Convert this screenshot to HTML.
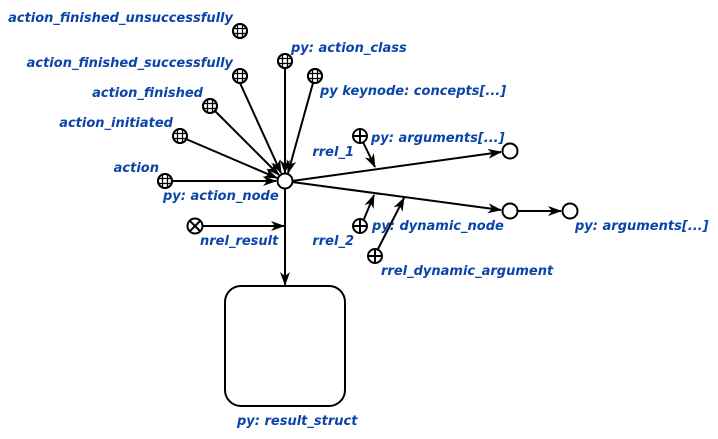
<!DOCTYPE html>
<html><head><meta charset="utf-8"><style>
html,body{margin:0;padding:0;background:#fff;width:718px;height:439px;overflow:hidden}
text{font-family:"DejaVu Sans","Liberation Sans",sans-serif;font-weight:bold;font-style:italic;font-size:13px;fill:#0b45a8}
</style></head><body>
<svg width="718" height="439" viewBox="0 0 718 439" xmlns="http://www.w3.org/2000/svg">
<defs>
<marker id="a" viewBox="0 0 14 10" refX="13" refY="5" markerWidth="14" markerHeight="10" markerUnits="userSpaceOnUse" orient="auto">
<path d="M0,0 L14,5 L0,10 L4,5 Z" fill="#000"/>
</marker>
<g id="g">
<circle r="7" fill="#fff" stroke="#000" stroke-width="2"/>
<path d="M-2.5,-6.5V6.5M2.5,-6.5V6.5M-6.5,-2.5H6.5M-6.5,2.5H6.5" stroke="#000" stroke-width="1.2"/>
<circle r="7" fill="none" stroke="#000" stroke-width="2"/>
</g>
<g id="p">
<circle r="7" fill="#fff" stroke="#000" stroke-width="2"/>
<path d="M0,-7V7M-7,0H7" stroke="#000" stroke-width="2"/>
</g>
</defs>
<g stroke="#000" stroke-width="2" fill="none">
<line x1="240" y1="83" x2="281" y2="173" marker-end="url(#a)"/>
<line x1="285" y1="68" x2="285" y2="173" marker-end="url(#a)"/>
<line x1="313" y1="83" x2="288" y2="173" marker-end="url(#a)"/>
<line x1="215" y1="111" x2="279" y2="175" marker-end="url(#a)"/>
<line x1="186" y1="139" x2="277" y2="178" marker-end="url(#a)"/>
<line x1="172" y1="181" x2="276" y2="181" marker-end="url(#a)"/>
<line x1="292" y1="181" x2="501" y2="152" marker-end="url(#a)"/>
<line x1="292" y1="182" x2="501" y2="210" marker-end="url(#a)"/>
<line x1="518" y1="211" x2="561" y2="211" marker-end="url(#a)"/>
<line x1="285" y1="188" x2="285" y2="285" marker-end="url(#a)"/>
<line x1="202" y1="226" x2="284" y2="226" marker-end="url(#a)"/>
<line x1="363" y1="142" x2="375" y2="167" marker-end="url(#a)"/>
<line x1="364" y1="219" x2="374" y2="195" marker-end="url(#a)"/>
<line x1="378" y1="249" x2="404" y2="198" marker-end="url(#a)"/>
<rect x="225" y="286" width="120" height="120" rx="16" stroke-width="2"/>
</g>
<use href="#g" x="240" y="31"/>
<use href="#g" x="240" y="76"/>
<use href="#g" x="285" y="61"/>
<use href="#g" x="315" y="76"/>
<use href="#g" x="210" y="106"/>
<use href="#g" x="180" y="136"/>
<use href="#g" x="165" y="181"/>
<use href="#p" x="360" y="136"/>
<use href="#p" x="360" y="226"/>
<use href="#p" x="375" y="256"/>
<g fill="#fff" stroke="#000" stroke-width="2">
<circle cx="285" cy="181" r="7.5"/>
<circle cx="510" cy="151" r="7.5"/>
<circle cx="510" cy="211" r="7.5"/>
<circle cx="570" cy="211" r="7.5"/>
<circle cx="195" cy="226" r="7.5"/>
<path d="M190,221L200,231M200,221L190,231"/>
</g>
<text x="233" y="22" text-anchor="end">action_finished_unsuccessfully</text>
<text x="233" y="67" text-anchor="end">action_finished_successfully</text>
<text x="291" y="52">py: action_class</text>
<text x="320" y="95">py keynode: concepts[...]</text>
<text x="203" y="97" text-anchor="end">action_finished</text>
<text x="173" y="127" text-anchor="end">action_initiated</text>
<text x="159" y="172" text-anchor="end">action</text>
<text x="163" y="200">py: action_node</text>
<text x="200" y="245">nrel_result</text>
<text x="354" y="156" text-anchor="end">rrel_1</text>
<text x="371" y="142">py: arguments[...]</text>
<text x="354" y="245" text-anchor="end">rrel_2</text>
<text x="372" y="230">py: dynamic_node</text>
<text x="381" y="275">rrel_dynamic_argument</text>
<text x="575" y="230">py: arguments[...]</text>
<text x="237" y="425">py: result_struct</text>
</svg>
</body></html>
